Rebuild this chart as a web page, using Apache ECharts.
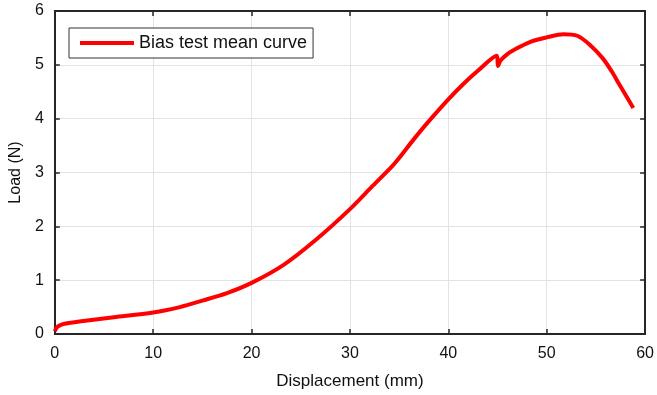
<!DOCTYPE html>
<html>
<head>
<meta charset="utf-8">
<script src="https://cdn.jsdelivr.net/npm/echarts@6/dist/echarts.min.js"></script>
<style>
  html, body { margin: 0; padding: 0; background: #fff; }
  #chart { width: 657px; height: 395px; }
</style>
</head>
<body>
<div id="chart"></div>
<script>
// Mean load–displacement curve from the bias tests
const displacement = [0, 0.2, 0.5, 1, 2.7, 6, 10, 12.7, 15, 17.5, 20, 23.3, 26.6, 30, 32.3, 34.3, 35, 36.5, 38, 40, 41.5, 43, 44.9, 45.05, 45.3, 46, 46.7, 48.4, 50, 51.7, 53.1, 54.4, 55.7, 56.6, 57.4, 58.8];
const load = [0.05, 0.12, 0.16, 0.19, 0.235, 0.31, 0.40, 0.50, 0.62, 0.76, 0.95, 1.29, 1.76, 2.32, 2.75, 3.12, 3.27, 3.62, 3.95, 4.36, 4.64, 4.89, 5.17, 4.98, 5.08, 5.2, 5.28, 5.43, 5.51, 5.57, 5.54, 5.37, 5.12, 4.88, 4.63, 4.2];
const xTicks = [0, 10, 20, 30, 40, 50, 60];
const yTicks = [0, 1, 2, 3, 4, 5, 6];
const seriesName = 'Bias test mean curve';

const FONT = "'Liberation Sans', Arial, sans-serif";
const AXIS_COLOR = '#262626';
const TEXT_COLOR = '#111';
const points = displacement.map((d, i) => [d, load[i]]);

const chart = echarts.init(document.getElementById('chart'), null, { renderer: 'canvas' });

const baseAxis = {
  axisLine: { show: true, onZero: false, lineStyle: { color: AXIS_COLOR, width: 2 } },
  axisTick: { show: true, inside: true, length: 5, lineStyle: { color: AXIS_COLOR, width: 1.5 } },
  splitLine: { show: false },
  axisLabel: { show: false }
};

chart.setOption({
  animation: false,
  backgroundColor: '#fff',
  grid: { left: 51, right: 8, top: 11, bottom: 61, containLabel: false },
  legend: {
    data: [seriesName],
    left: 69, top: 28,
    backgroundColor: '#fff',
    borderColor: '#333', borderWidth: 1,
    padding: [6, 6, 6, 11],
    itemWidth: 54, itemHeight: 4, itemGap: 5,
    icon: 'rect',
    textStyle: { fontFamily: FONT, fontSize: 18, color: TEXT_COLOR }
  },
  xAxis: [
    Object.assign({}, baseAxis, {
      type: 'value', min: xTicks[0], max: xTicks[xTicks.length - 1], interval: 10,
      position: 'bottom',
      name: 'Displacement (mm)', nameLocation: 'middle', nameGap: 39,
      nameTextStyle: { fontFamily: FONT, fontSize: 17, color: TEXT_COLOR },
      axisLabel: { show: true, margin: 12, fontFamily: FONT, fontSize: 16, color: TEXT_COLOR },
      splitLine: { show: true, lineStyle: { color: '#e3e3e3', width: 1 } }
    }),
    Object.assign({}, baseAxis, {
      type: 'value', min: xTicks[0], max: xTicks[xTicks.length - 1], interval: 10,
      position: 'top'
    })
  ],
  yAxis: [
    Object.assign({}, baseAxis, {
      type: 'value', min: yTicks[0], max: yTicks[yTicks.length - 1], interval: 1,
      position: 'left',
      name: 'Load (N)', nameLocation: 'middle', nameGap: 25, nameRotate: 90,
      nameTextStyle: { fontFamily: FONT, fontSize: 16, color: TEXT_COLOR },
      axisLabel: { show: true, margin: 11, fontFamily: FONT, fontSize: 16, color: TEXT_COLOR },
      splitLine: { show: true, lineStyle: { color: '#e3e3e3', width: 1 } }
    }),
    Object.assign({}, baseAxis, {
      type: 'value', min: yTicks[0], max: yTicks[yTicks.length - 1], interval: 1,
      position: 'right'
    })
  ],
  series: [{
    name: seriesName,
    type: 'line',
    xAxisIndex: 0, yAxisIndex: 0,
    data: points,
    showSymbol: false,
    smooth: 0.3,
    lineStyle: { color: '#ff0000', width: 4 },
    itemStyle: { color: '#ff0000' }
  }]
});
</script>
</body>
</html>
